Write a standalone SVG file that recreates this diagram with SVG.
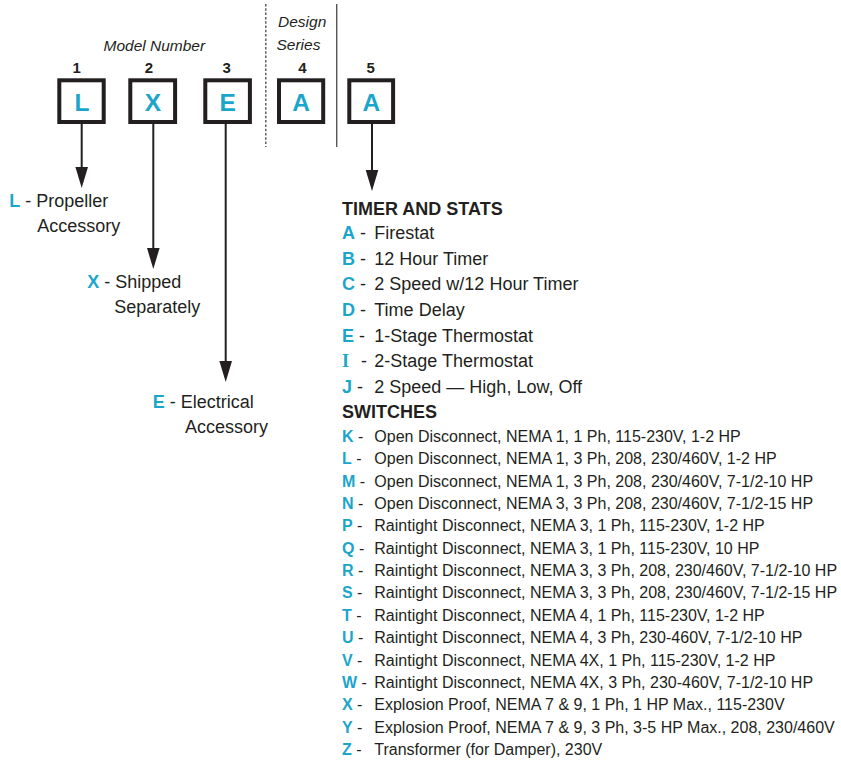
<svg xmlns="http://www.w3.org/2000/svg" width="841" height="760" viewBox="0 0 841 760">
<style>
text{font-family:"Liberation Sans",Arial,Helvetica,sans-serif;fill:#231f20}
.box{fill:#fff;stroke:#231f20;stroke-width:4}
.bl{font-size:24.5px;font-weight:bold;fill:#1ba6c9;text-anchor:middle}
.num{font-size:15px;font-weight:bold;text-anchor:middle}
.it{font-size:15.5px;font-style:italic}
.c{fill:#1ba6c9;font-weight:bold}
.t18{font-size:18px}
.t16{font-size:16px}
.h{font-size:18px;font-weight:bold}
.conn{stroke:#231f20;stroke-width:2;fill:none}
.sep{stroke:#555;stroke-width:1.4;fill:none}
</style>
<defs>
<marker id="ah" markerUnits="userSpaceOnUse" markerWidth="24" markerHeight="14" viewBox="0 -7 24 14" refX="11" refY="0" orient="auto">
<path d="M0,-6.3 L21,0 L0,6.3 Z" fill="#231f20"/>
</marker>
</defs>

<g id="header">
<text class="it" x="103.5" y="50.5">Model Number</text>
<text class="it" x="278" y="27">Design</text>
<text class="it" x="276.5" y="50">Series</text>
<line class="sep" x1="265.8" y1="4" x2="265.8" y2="147" stroke-dasharray="2.5,1.8"/>
<line class="sep" x1="336.7" y1="4" x2="336.7" y2="147"/>
</g>

<g id="node1">
<text class="num" x="76.7" y="72.5">1</text>
<rect class="box" x="59.3" y="80.3" width="44.4" height="41.7"/>
<text class="bl" x="82" y="111">L</text>
</g>
<g id="node2">
<text class="num" x="149" y="72.5">2</text>
<rect class="box" x="130.3" y="80.3" width="44.8" height="41.7"/>
<text class="bl" x="152.8" y="111">X</text>
</g>
<g id="node3">
<text class="num" x="226.7" y="72.5">3</text>
<rect class="box" x="205.3" y="80.3" width="44.6" height="41.7"/>
<text class="bl" x="227.7" y="111">E</text>
</g>
<g id="node4">
<text class="num" x="302.5" y="72.5">4</text>
<rect class="box" x="279" y="80.3" width="44.2" height="41.7"/>
<text class="bl" x="301.2" y="111">A</text>
</g>
<g id="node5">
<text class="num" x="370.7" y="72.5">5</text>
<rect class="box" x="349.3" y="80.3" width="43.8" height="41.7"/>
<text class="bl" x="371.3" y="111">A</text>
</g>

<g id="connectors">
<line class="conn" x1="81.7" y1="124" x2="81.7" y2="178" marker-end="url(#ah)"/>
<line class="conn" x1="153.3" y1="124" x2="153.3" y2="259" marker-end="url(#ah)"/>
<line class="conn" x1="225.7" y1="124" x2="225.7" y2="372" marker-end="url(#ah)"/>
<line class="conn" x1="372" y1="124" x2="372" y2="181" marker-end="url(#ah)"/>
</g>

<g id="label-L">
<text class="t18" x="9.3" y="206.7"><tspan class="c">L</tspan> - Propeller</text>
<text class="t18" x="37.3" y="231.7">Accessory</text>
</g>
<g id="label-X">
<text class="t18" x="87.3" y="288.3"><tspan class="c">X</tspan> - Shipped</text>
<text class="t18" x="114.3" y="313">Separately</text>
</g>
<g id="label-E">
<text class="t18" x="152.7" y="408.3"><tspan class="c">E</tspan> - Electrical</text>
<text class="t18" x="185" y="433">Accessory</text>
</g>

<g id="timers">
<text class="h" x="342" y="215">TIMER AND STATS</text>
<text class="t18" x="342" y="239.3"><tspan class="c">A</tspan> -</text><text class="t18" x="374.3" y="239.3">Firestat</text>
<text class="t18" x="342" y="264.9"><tspan class="c">B</tspan> -</text><text class="t18" x="374.3" y="264.9">12 Hour Timer</text>
<text class="t18" x="342" y="290.4"><tspan class="c">C</tspan> -</text><text class="t18" x="374.3" y="290.4">2 Speed w/12 Hour Timer</text>
<text class="t18" x="342" y="316"><tspan class="c">D</tspan> -</text><text class="t18" x="374.3" y="316">Time Delay</text>
<text class="t18" x="342" y="341.5"><tspan class="c">E</tspan> -</text><text class="t18" x="374.3" y="341.5">1-Stage Thermostat</text>
<text class="t18" x="342" y="367.1"><tspan class="c" style="font-family:'Liberation Serif',serif">I</tspan></text><text class="t18" x="361" y="367.1">-</text><text class="t18" x="374.3" y="367.1">2-Stage Thermostat</text>
<text class="t18" x="342" y="392.6"><tspan class="c">J</tspan> -</text><text class="t18" x="374.3" y="392.6">2 Speed — High, Low, Off</text>
</g>

<g id="switches">
<text class="h" x="342" y="417.5">SWITCHES</text>
<g class="t16">
<text x="342" y="441.7"><tspan class="c">K</tspan> -</text><text x="374.3" y="441.7">Open Disconnect, NEMA 1, 1 Ph, 115-230V, 1-2 HP</text>
<text x="342" y="464.1"><tspan class="c">L</tspan> -</text><text x="374.3" y="464.1">Open Disconnect, NEMA 1, 3 Ph, 208, 230/460V, 1-2 HP</text>
<text x="342" y="486.5"><tspan class="c">M</tspan> -</text><text x="374.3" y="486.5">Open Disconnect, NEMA 1, 3 Ph, 208, 230/460V, 7-1/2-10 HP</text>
<text x="342" y="508.8"><tspan class="c">N</tspan> -</text><text x="374.3" y="508.8">Open Disconnect, NEMA 3, 3 Ph, 208, 230/460V, 7-1/2-15 HP</text>
<text x="342" y="531.2"><tspan class="c">P</tspan> -</text><text x="374.3" y="531.2">Raintight Disconnect, NEMA 3, 1 Ph, 115-230V, 1-2 HP</text>
<text x="342" y="553.6"><tspan class="c">Q</tspan> -</text><text x="374.3" y="553.6">Raintight Disconnect, NEMA 3, 1 Ph, 115-230V, 10 HP</text>
<text x="342" y="576"><tspan class="c">R</tspan> -</text><text x="374.3" y="576">Raintight Disconnect, NEMA 3, 3 Ph, 208, 230/460V, 7-1/2-10 HP</text>
<text x="342" y="598.4"><tspan class="c">S</tspan> -</text><text x="374.3" y="598.4">Raintight Disconnect, NEMA 3, 3 Ph, 208, 230/460V, 7-1/2-15 HP</text>
<text x="342" y="620.7"><tspan class="c">T</tspan> -</text><text x="374.3" y="620.7">Raintight Disconnect, NEMA 4, 1 Ph, 115-230V, 1-2 HP</text>
<text x="342" y="643.1"><tspan class="c">U</tspan> -</text><text x="374.3" y="643.1">Raintight Disconnect, NEMA 4, 3 Ph, 230-460V, 7-1/2-10 HP</text>
<text x="342" y="665.5"><tspan class="c">V</tspan> -</text><text x="374.3" y="665.5">Raintight Disconnect, NEMA 4X, 1 Ph, 115-230V, 1-2 HP</text>
<text x="342" y="687.9"><tspan class="c">W</tspan> -</text><text x="374.3" y="687.9">Raintight Disconnect, NEMA 4X, 3 Ph, 230-460V, 7-1/2-10 HP</text>
<text x="342" y="710.3"><tspan class="c">X</tspan> -</text><text x="374.3" y="710.3">Explosion Proof, NEMA 7 &amp; 9, 1 Ph, 1 HP Max., 115-230V</text>
<text x="342" y="732.6"><tspan class="c">Y</tspan> -</text><text x="374.3" y="732.6">Explosion Proof, NEMA 7 &amp; 9, 3 Ph, 3-5 HP Max., 208, 230/460V</text>
<text x="342" y="755"><tspan class="c">Z</tspan> -</text><text x="374.3" y="755">Transformer (for Damper), 230V</text>
</g>
</g>
</svg>
